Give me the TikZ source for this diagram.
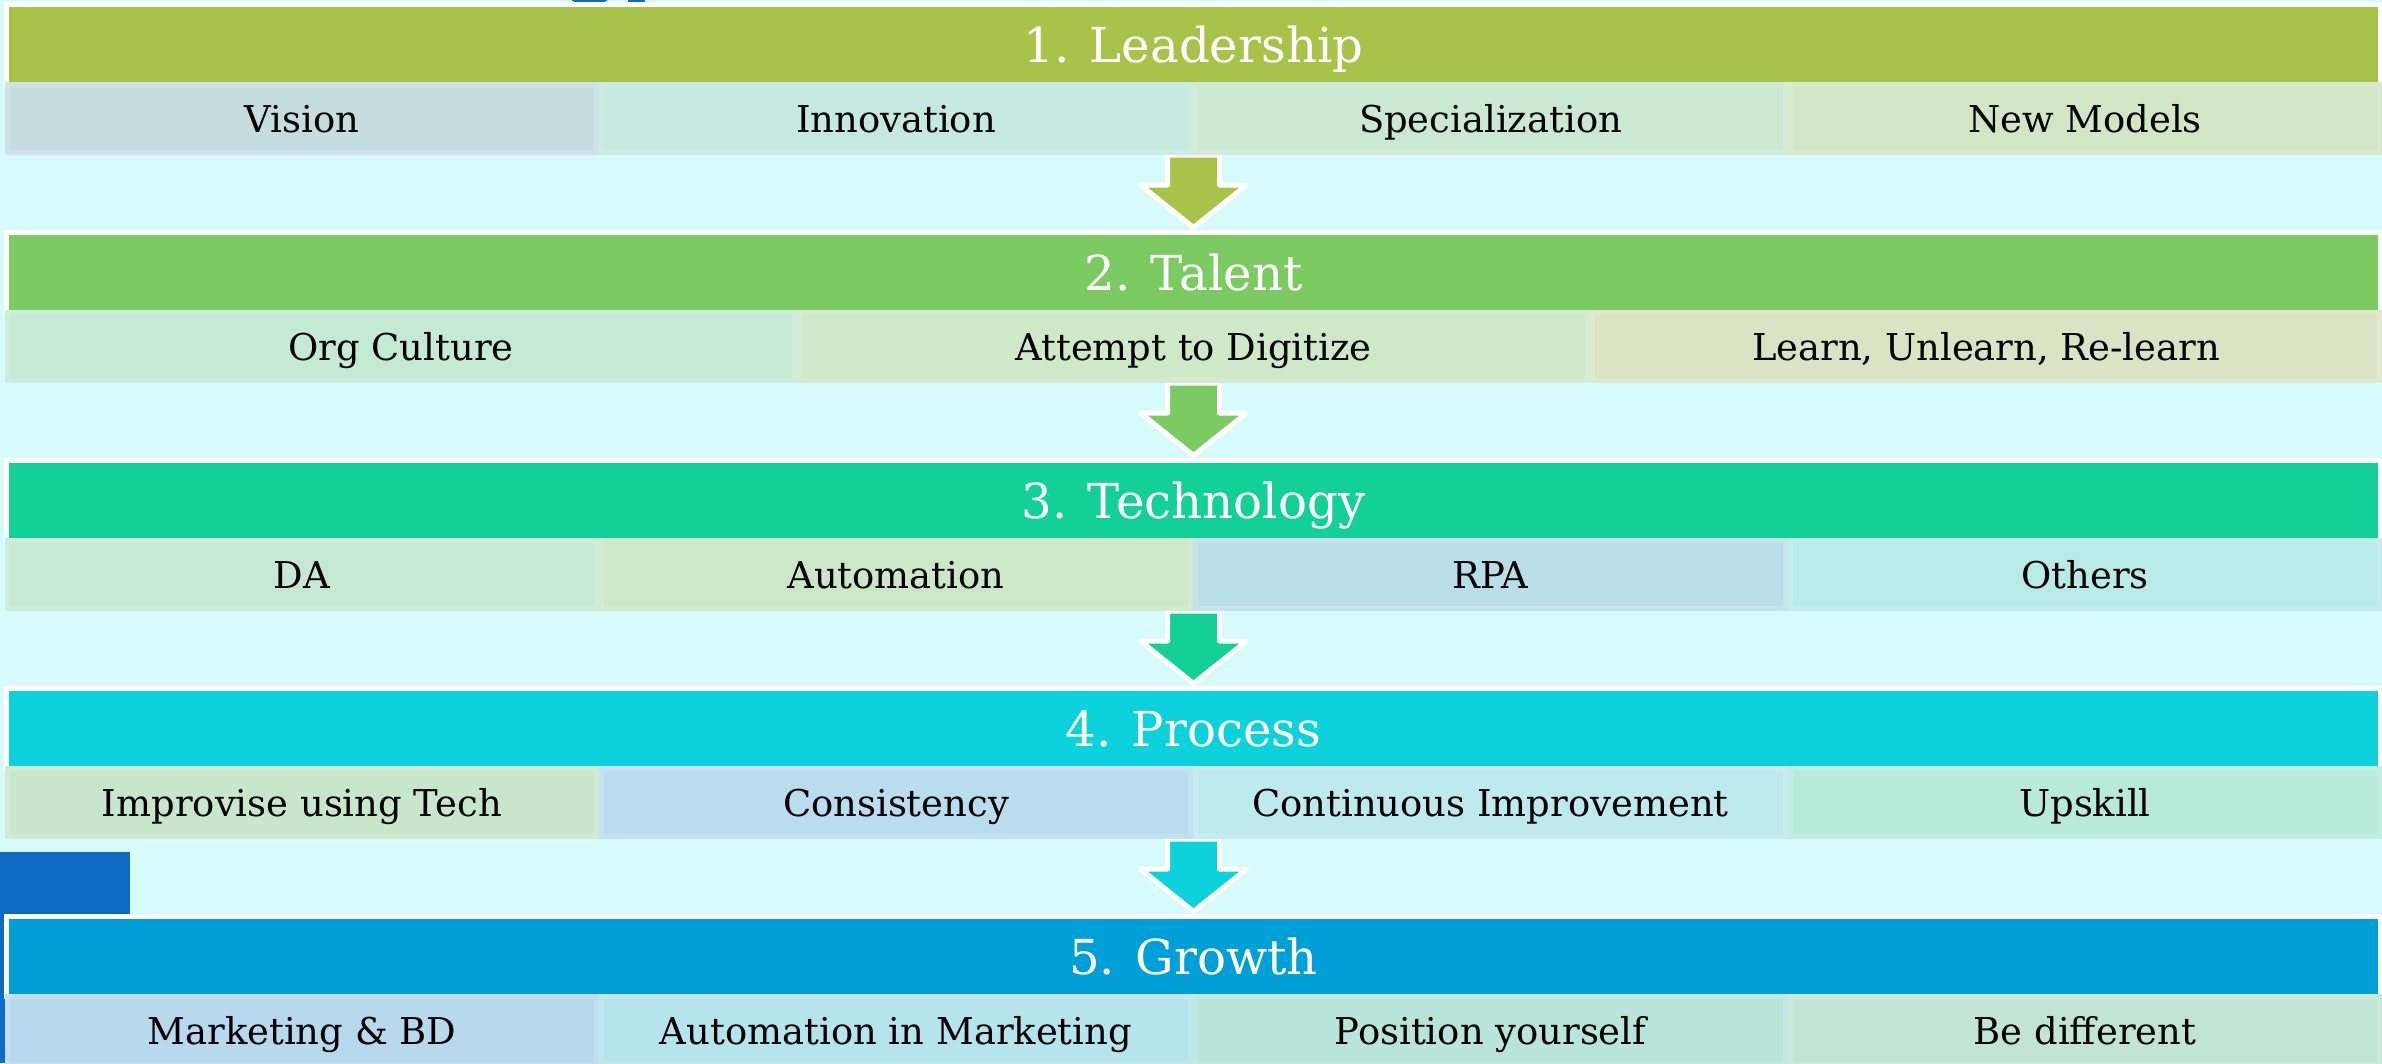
\documentclass[tikz,border=0pt]{standalone}
\usepackage{fontspec}
\setmainfont{DejaVu Serif}
\usetikzlibrary{calc}
\pgfdeclarelayer{background}
\pgfsetlayers{background,main}
\definecolor{bgc}{HTML}{D7FAFA}
\definecolor{sqblue}{HTML}{0E6BC4}
\definecolor{barA}{HTML}{A8C34A}
\definecolor{barB}{HTML}{7CCB62}
\definecolor{barC}{HTML}{12D096}
\definecolor{barD}{HTML}{0DD2DB}
\definecolor{barE}{HTML}{009FD8}
\definecolor{ca1}{HTML}{C6DDE0}
\definecolor{ca2}{HTML}{C6E9DF}
\definecolor{ca3}{HTML}{CBE8D2}
\definecolor{ca4}{HTML}{D2E6C6}
\definecolor{cb1}{HTML}{C4EAD3}
\definecolor{cb2}{HTML}{CFE8C8}
\definecolor{cb3}{HTML}{DAE4C4}
\definecolor{cc1}{HTML}{C6E8D2}
\definecolor{cc2}{HTML}{CCE6C8}
\definecolor{cc3}{HTML}{BADEE8}
\definecolor{cc4}{HTML}{B8EAE6}
\definecolor{cd1}{HTML}{C8E6CC}
\definecolor{cd2}{HTML}{B9DCEE}
\definecolor{cd3}{HTML}{BEEAEE}
\definecolor{cd4}{HTML}{B8EADA}
\definecolor{ce1}{HTML}{B8D8EE}
\definecolor{ce2}{HTML}{B6E4EC}
\definecolor{ce3}{HTML}{B8E4DA}
\definecolor{ce4}{HTML}{C2E4D2}
\tikzset{
  titlebar/.style={fill=#1, draw=white, line width=0.05cm, minimum width=23.72cm,
    minimum height=0.80cm, inner sep=0pt, text=white,
    font=\fontsize{13.7}{16}\selectfont, text height=10pt, text depth=0pt},
  cellbox/.style={fill=#1, draw=#1!85!white, line width=0.05cm, minimum height=0.68cm,
    inner sep=0pt, text=black, font=\fontsize{10.5}{12}\selectfont,
    text height=7.7pt, text depth=0pt},
  fourcell/.style={cellbox=#1, minimum width=5.89cm},
  threecell/.style={cellbox=#1, minimum width=7.87cm},
  blockarrow/.style={fill=#1, draw=white, line width=0.05cm, line join=round}
}
\newcommand{\blockarr}[3]{%
  \draw[blockarrow=#3]
    ($(#1)+(-26,0)$) -- ($(#1)+(-26,30)$) -- ($(#1)+(-53,30)$) -- (#2)
    -- ($(#1)+(53,30)$) -- ($(#1)+(26,30)$) -- ($(#1)+(26,0)$) -- cycle;}
\begin{document}
\begin{tikzpicture}[x=0.01cm,y=-0.01cm]
\useasboundingbox (0,0) rectangle (2382,1063);

% title bars
\node[titlebar=barA] (t1) at (1193.5,44.5) {1. Leadership};
\node[titlebar=barB] (t2) at (1193.5,272.5) {2. Talent};
\node[titlebar=barC] (t3) at (1193.5,500.5) {3. Technology};
\node[titlebar=barD] (t4) at (1193.5,728.5) {4. Process};
\node[titlebar=barE] (t5) at (1193.5,956.5) {5. Growth};

% row 1
\node[fourcell=ca1] (a1) at (302,118.5) {Vision};
\node[fourcell=ca2] (a2) at (896,118.5) {Innovation};
\node[fourcell=ca3] (a3) at (1490.5,118.5) {Specialization};
\node[fourcell=ca4] (a4) at (2085,118.5) {New Models};
% row 2
\node[threecell=cb1] (b1) at (401,346.5) {Org Culture};
\node[threecell=cb2] (b2) at (1193.5,346.5) {Attempt to Digitize};
\node[threecell=cb3] (b3) at (1986,346.5) {Learn, Unlearn, Re-learn};
% row 3
\node[fourcell=cc1] (c1) at (302,574.5) {DA};
\node[fourcell=cc2] (c2) at (896,574.5) {Automation};
\node[fourcell=cc3] (c3) at (1490.5,574.5) {RPA};
\node[fourcell=cc4] (c4) at (2085,574.5) {Others};
% row 4
\node[fourcell=cd1] (d1) at (302,802.5) {Improvise using Tech};
\node[fourcell=cd2] (d2) at (896,802.5) {Consistency};
\node[fourcell=cd3] (d3) at (1490.5,802.5) {Continuous Improvement};
\node[fourcell=cd4] (d4) at (2085,802.5) {Upskill};
% row 5
\node[fourcell=ce1] (e1) at (302,1030.5) {Marketing \& BD};
\node[fourcell=ce2] (e2) at (896,1030.5) {Automation in Marketing};
\node[fourcell=ce3] (e3) at (1490.5,1030.5) {Position yourself};
\node[fourcell=ce4] (e4) at (2085,1030.5) {Be different};

\begin{pgfonlayer}{background}
  \fill[bgc] (0,0) rectangle (2382,1063);
  \fill[sqblue] (0,852) rectangle (130,1063);
  \fill[sqblue, rounded corners=1] (572,-2) rectangle (607,2.2);
  \fill[sqblue] (628,-2) rectangle (645,2.2);
  \coordinate (s1) at ($(t1.south)+(0,68)$);
  \coordinate (e1t) at ($(t2.north)+(0,-2.5)$);
  \coordinate (s2) at ($(t2.south)+(0,68)$);
  \coordinate (e2t) at ($(t3.north)+(0,-2.5)$);
  \coordinate (s3) at ($(t3.south)+(0,68)$);
  \coordinate (e3t) at ($(t4.north)+(0,-2.5)$);
  \coordinate (s4) at ($(t4.south)+(0,68)$);
  \coordinate (e4t) at ($(t5.north)+(0,-2.5)$);
  \blockarr{s1}{e1t}{barA}
  \blockarr{s2}{e2t}{barB}
  \blockarr{s3}{e3t}{barC}
  \blockarr{s4}{e4t}{barD}
\end{pgfonlayer}
\end{tikzpicture}
\end{document}
